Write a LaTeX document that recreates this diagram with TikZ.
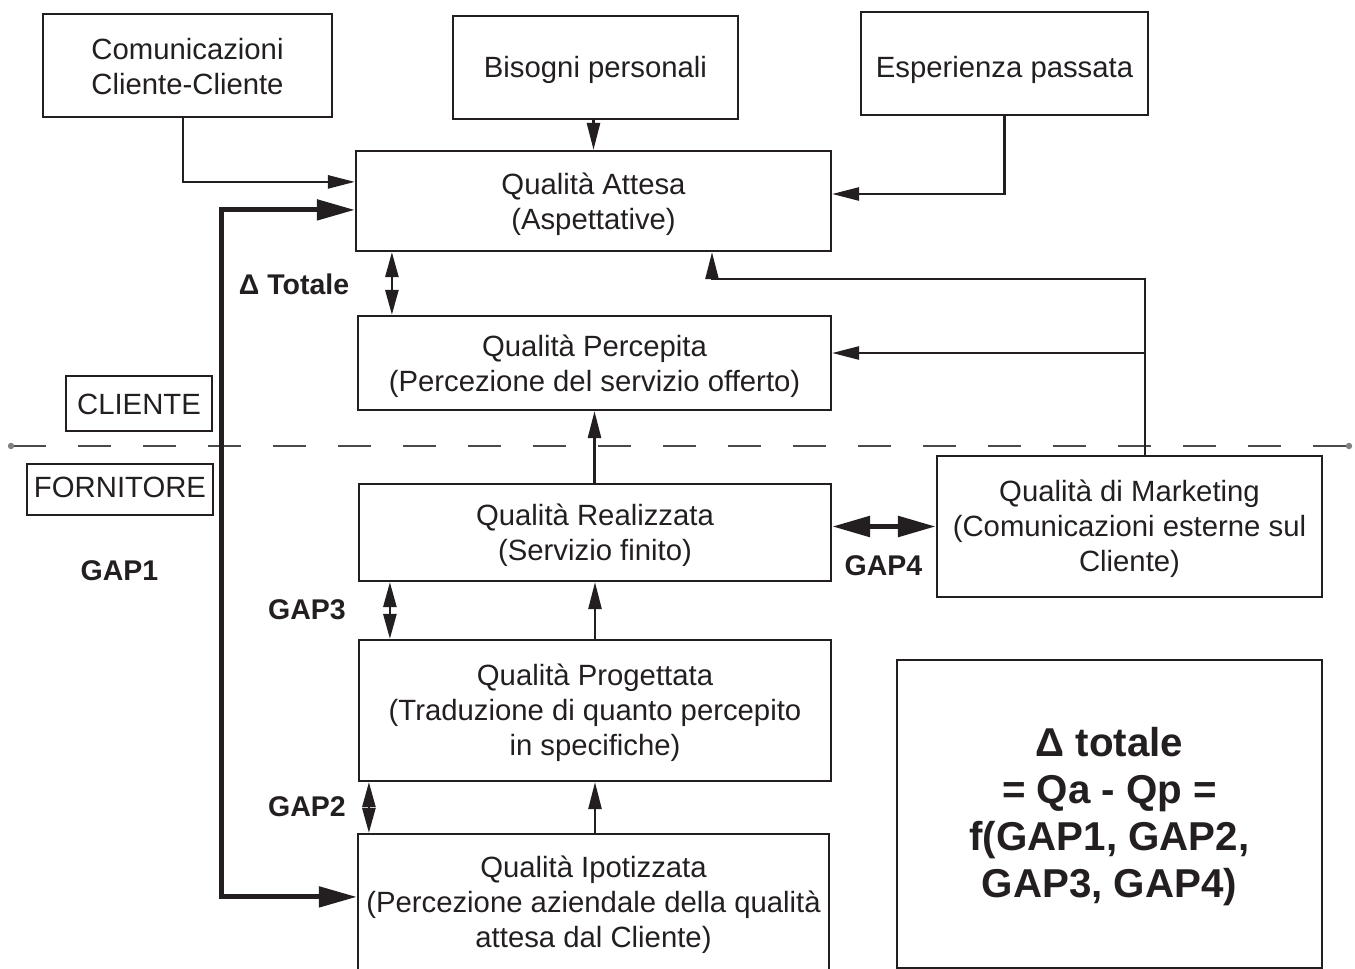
\documentclass[tikz,border=0pt]{standalone}
\usepackage{fontspec}
\setmainfont{Liberation Sans}
\usetikzlibrary{arrows.meta,calc}
\definecolor{ink}{HTML}{231F20}
\definecolor{rule}{HTML}{4A4A4A}

\begin{document}
\begin{tikzpicture}[x=1pt,y=-1pt,
  box/.style={draw=ink, line width=2.2pt, inner sep=0pt},
  txt/.style={inner sep=0pt, align=center, text=ink, font=\fontsize{29.3}{35}\selectfont, yshift=-3pt},
  big/.style={txt, font=\fontsize{40.3}{47}\selectfont\bfseries},
  lab/.style={inner sep=0pt, text=ink, font=\fontsize{28.5}{34}\selectfont\bfseries},
  conn/.style={draw=ink, line width=2.6pt, -{Triangle[length=27pt,width=13pt]}},
  dbl/.style={draw=ink, line width=2.6pt, {Triangle[length=25pt,width=13pt]}-{Triangle[length=25pt,width=13pt]}},
  heavy/.style={draw=ink, line width=5.5pt, {Triangle[length=38pt,width=20pt]}-{Triangle[length=38pt,width=20pt]}},
]
\useasboundingbox (0,0) rectangle (1355,969);
\clip (0,0) rectangle (1355,969);

% input boxes
\node[box, minimum width=289pt, minimum height=103pt, label={[txt, yshift=2pt]center:{Comunicazioni\\Cliente-Cliente}}] (cc) at (187.5,65.5) {};
\node[box, minimum width=285pt, minimum height=103pt, label={[txt, yshift=1pt]center:Bisogni personali}] (bis) at (595.5,67.5) {};
\node[box, minimum width=287pt, minimum height=103pt, label={[txt, yshift=-3pt]center:Esperienza passata}] (esp) at (1004.5,63.5) {};

% quality chain
\node[box, minimum width=475pt, minimum height=100pt, label={[txt]center:{Qualità Attesa\\(Aspettative)}}] (att) at (593.5,201) {};
\node[box, minimum width=473pt, minimum height=94pt, label={[txt]center:{Qualità Percepita\\(Percezione del servizio offerto)}}] (per) at (594.5,363) {};
\node[box, minimum width=472pt, minimum height=97pt, label={[txt]center:{Qualità Realizzata\\(Servizio finito)}}] (rea) at (595,532.5) {};
\node[box, minimum width=472pt, minimum height=141pt, label={[txt, yshift=1pt]center:{Qualità Progettata\\(Traduzione di quanto percepito\\in specifiche)}}] (pro) at (595,710.5) {};
\node[box, minimum width=471pt, minimum height=160pt, label={[txt, yshift=12pt]center:{Qualità Ipotizzata\\(Percezione aziendale della qualità\\attesa dal Cliente)}}] (ipo) at (593.5,914) {};
\node[box, minimum width=385pt, minimum height=141pt, label={[txt, yshift=1pt]center:{Qualità di Marketing\\(Comunicazioni esterne sul\\Cliente)}}] (mkt) at (1129.5,526.5) {};

% side labels
\node[box, minimum width=146pt, minimum height=55pt, label={[txt, yshift=2pt]center:CLIENTE}] (cli) at (139,403.5) {};
\node[box, minimum width=186pt, minimum height=51pt, label={[txt, yshift=5pt]center:FORNITORE}] (for) at (120,489.5) {};

% summary box
\node[box, minimum width=425pt, minimum height=308pt, label={[big]center:{Δ totale\\= Qa - Qp =\\f(GAP1, GAP2,\\GAP3, GAP4)}}] (sum) at (1109.5,814) {};

% gap labels
\node[lab] (dtot) at (294,284) {Δ Totale};
\node[lab] (g1) at (119.5,571) {GAP1};
\node[lab] (g3) at (307,610) {GAP3};
\node[lab] (g2) at (307,807) {GAP2};
\node[lab] (g4) at (883.5,566) {GAP4};

% customer / supplier divide
\coordinate (dl) at (11,446);
\coordinate (dr) at (1349,446);
\draw[rule, line width=1.4pt, dash pattern=on 33pt off 32pt, dash phase=-2pt] (dl) -- (dr);
\fill[gray] (dl) circle (3.2pt) (dr) circle (3.2pt);

% inputs to expected quality
\draw[conn] ($(cc.south)+(-4.5,0)$) |- ($(att.north west)+(0,32)$);
\draw[conn] (bis.south -| att.north) -- (att.north);
\draw[conn] (esp.south) |- ($(att.east)+(0,-7)$);

% GAP1 loop
\draw[heavy, line width=5pt] ($(att.north west)+(0,60)$) -| (221,700) |- ($(ipo.north west)+(0,64)$);

% marketing feedback
\draw[conn] ($(mkt.north)+(15.5,0)$) -- ++(0,-176) -| ($(att.south)+(118.5,0)$);
\draw[conn] ($(per.east)+(312,-10)$) -- ($(per.east)+(0,-10)$);
\draw[heavy] ($(rea.east)+(0,-6)$) -- (mkt.west);

% upward flow
\draw[conn] (rea.north -| per.south) -- (per.south);
\draw[conn] (pro.north) -- (rea.south);
\draw[conn] (ipo.north -| pro.south) -- (pro.south);

% gaps
\draw[dbl] ($(att.south west)+(37,0)$) -- ($(per.north west)+(35,0)$);
\draw[dbl] ($(rea.south west)+(32,0)$) -- ($(pro.north west)+(32,0)$);
\draw[dbl] ($(pro.south west)+(11,0)$) -- ($(ipo.north west)+(12,0)$);
\end{tikzpicture}
\end{document}
